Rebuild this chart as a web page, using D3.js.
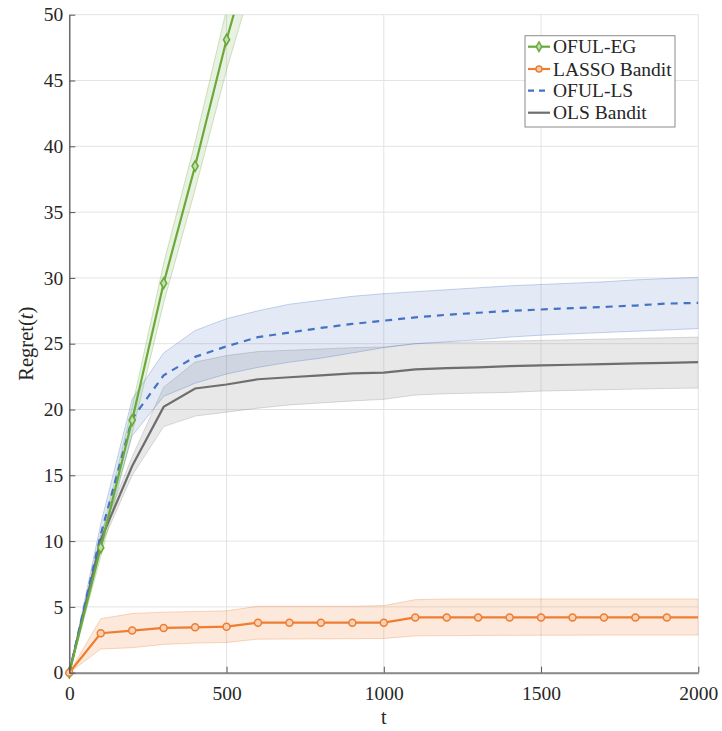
<!DOCTYPE html>
<html>
<head>
<meta charset="utf-8">
<script src="https://cdn.jsdelivr.net/npm/d3@7"></script>
<style>
  body { margin: 0; background: #fff; }
  svg text { font-family: "Liberation Serif", "Times New Roman", serif; fill: #262626; }
</style>
</head>
<body>
<svg id="chart" width="722" height="731"></svg>
<script>
// time steps (every 100 rounds)
var T = [0,100,200,300,400,500,600,700,800,900,1000,1100,1200,1300,1400,1500,1600,1700,1800,1900,2000];

// OFUL-EG only until it leaves the plot
var T_EG = [0,100,200,300,400,500,600];
var egMean  = [0, 9.5, 19.2, 29.6, 38.5, 48.1, 56.5];
var egUpper = [0, 10.2, 20.2, 31.1, 40.3, 50.4, 59.1];
var egLower = [0, 8.8, 18.2, 28.1, 36.7, 45.8, 53.9];

var lassoMean  = [0, 3.0, 3.2, 3.4, 3.45, 3.5, 3.8, 3.8, 3.8, 3.8, 3.8, 4.2, 4.2, 4.2, 4.2, 4.2, 4.2, 4.2, 4.2, 4.2, 4.2];
var lassoUpper = [0, 4.1, 4.5, 4.6, 4.65, 4.7, 5.05, 5.05, 5.05, 5.05, 5.1, 5.55, 5.6, 5.6, 5.6, 5.6, 5.6, 5.6, 5.6, 5.6, 5.6];
var lassoLower = [0, 1.8, 1.9, 2.15, 2.25, 2.3, 2.55, 2.56, 2.57, 2.58, 2.6, 2.8, 2.82, 2.83, 2.84, 2.85, 2.85, 2.86, 2.86, 2.86, 2.86];

var lsMean  = [0, 10.5, 19.3, 22.6, 24.0, 24.8, 25.5, 25.85, 26.2, 26.5, 26.75, 27.0, 27.2, 27.35, 27.5, 27.6, 27.7, 27.8, 27.9, 28.05, 28.1];
var lsUpper = [0, 11.3, 20.8, 24.3, 26.0, 26.9, 27.5, 28.0, 28.3, 28.6, 28.8, 28.95, 29.1, 29.25, 29.4, 29.5, 29.6, 29.7, 29.85, 29.95, 30.05];
var lsLower = [0, 9.7, 18.0, 21.0, 22.0, 22.7, 23.2, 23.6, 23.9, 24.3, 24.7, 25.0, 25.15, 25.3, 25.5, 25.65, 25.75, 25.85, 25.95, 26.05, 26.15];

var olsMean  = [0, 10.1, 15.7, 20.2, 21.6, 21.9, 22.3, 22.45, 22.6, 22.75, 22.8, 23.05, 23.15, 23.2, 23.3, 23.35, 23.4, 23.45, 23.5, 23.55, 23.6];
var olsUpper = [0, 10.6, 16.4, 21.7, 23.6, 24.1, 24.4, 24.5, 24.6, 24.7, 24.75, 25.0, 25.1, 25.15, 25.2, 25.25, 25.3, 25.35, 25.4, 25.45, 25.5];
var olsLower = [0, 9.6, 15.0, 18.7, 19.5, 19.8, 20.1, 20.35, 20.5, 20.65, 20.77, 21.1, 21.2, 21.25, 21.3, 21.4, 21.45, 21.5, 21.55, 21.6, 21.63];

var xTicks = [0, 500, 1000, 1500, 2000];
var yTicks = [0, 5, 10, 15, 20, 25, 30, 35, 40, 45, 50];
var legendNames = ["OFUL-EG", "LASSO Bandit", "OFUL-LS", "OLS Bandit"];

var GREEN = "#6aaa3a", ORANGE = "#ee7d32", BLUE = "#4472c4", GREY = "#6e6e6e";
var SERIF = "'Liberation Serif', 'Times New Roman', serif";

var margin = {left: 69.3, right: 23.7, top: 14.7, bottom: 58.3};
var W = 722, H = 731;
var svg = d3.select("#chart");

var x = d3.scaleLinear().domain([0, 2000]).range([margin.left, W - margin.right]);
var y = d3.scaleLinear().domain([0, 50]).range([H - margin.bottom, margin.top]);

svg.append("defs").append("clipPath").attr("id", "clip")
    .append("rect")
    .attr("x", margin.left).attr("y", margin.top)
    .attr("width", x(2000) - x(0)).attr("height", y(0) - y(50));

// grid
var grid = svg.append("g");
grid.selectAll(".gx").data(xTicks).enter().append("line")
    .attr("x1", d => x(d)).attr("x2", d => x(d))
    .attr("y1", y(0)).attr("y2", y(50))
    .style("stroke", "#e3e3e3").style("stroke-width", 1);
grid.selectAll(".gy").data(yTicks).enter().append("line")
    .attr("x1", x(0)).attr("x2", x(2000))
    .attr("y1", d => y(d)).attr("y2", d => y(d))
    .style("stroke", "#e3e3e3").style("stroke-width", 1);

var plot = svg.append("g").attr("clip-path", "url(#clip)");

function band(ts, lo, hi, color, op) {
    var pts = ts.map((t, i) => ({t: t, lo: lo[i], hi: hi[i]}));
    var area = d3.area().x(d => x(d.t)).y0(d => y(d.lo)).y1(d => y(d.hi));
    plot.append("path").datum(pts).attr("d", area)
        .style("fill", color).style("fill-opacity", op)
        .style("stroke", color).style("stroke-opacity", 0.3).style("stroke-width", 1);
}

function line(ts, vals, color, dash) {
    var pts = ts.map((t, i) => ({t: t, v: vals[i]}));
    var l = d3.line().x(d => x(d.t)).y(d => y(d.v));
    return plot.append("path").datum(pts).attr("d", l)
        .style("fill", "none").style("stroke", color).style("stroke-width", 2.2)
        .style("stroke-dasharray", dash || null);
}

band(T, olsLower, olsUpper, "#8c8c8c", 0.2);
band(T, lsLower, lsUpper, BLUE, 0.15);
band(T, lassoLower, lassoUpper, ORANGE, 0.17);
band(T_EG, egLower, egUpper, GREEN, 0.15);

line(T, olsMean, GREY);
line(T, lsMean, BLUE, "7,6");
line(T, lassoMean, ORANGE);
line(T_EG, egMean, GREEN);

// markers
var diamond = d3.symbol().type(d3.symbolDiamond).size(32);
svg.append("g").selectAll("path")
    .data(T_EG.map((t, i) => ({t: t, v: egMean[i]})).filter(d => d.v <= 50))
    .enter().append("path")
    .attr("d", diamond)
    .attr("transform", d => "translate(" + x(d.t) + "," + y(d.v) + ")")
    .style("fill", "#c4deb0").style("stroke", GREEN).style("stroke-width", 1.6);

svg.append("g").selectAll("circle")
    .data(T.map((t, i) => ({t: t, v: lassoMean[i]})).filter(d => d.t < 2000))
    .enter().append("circle")
    .attr("cx", d => x(d.t)).attr("cy", d => y(d.v)).attr("r", 3.5)
    .style("fill", "#f8d0b4").style("stroke", ORANGE).style("stroke-width", 1.5);

// axes
var xAxis = d3.axisBottom(x).tickValues(xTicks).tickFormat(d3.format("d"))
    .tickSizeInner(-6).tickSizeOuter(0).tickPadding(13);
var yAxis = d3.axisLeft(y).tickValues(yTicks).tickFormat(d3.format("d"))
    .tickSizeInner(-6).tickSizeOuter(0).tickPadding(6);

var gx = svg.append("g").attr("transform", "translate(0," + y(0) + ")").call(xAxis);
var gy = svg.append("g").attr("transform", "translate(" + x(0) + ",0)").call(yAxis);
[gx, gy].forEach(function(g) {
    g.attr("font-family", null).attr("font-size", null);
    g.selectAll("text").style("font-size", "19.5px").style("font-family", SERIF).style("fill", "#262626");
    g.selectAll("line").style("stroke", "#555");
});
gx.select(".domain").style("stroke", "#8a8a8a").style("stroke-width", 2);
gy.select(".domain").style("stroke", "#555").style("stroke-width", 1.3);

// axis labels
svg.append("text").attr("x", x(1000)).attr("y", 724)
    .attr("text-anchor", "middle").style("font-size", "20px").style("font-family", SERIF).text("t");

var yl = svg.append("text")
    .attr("transform", "translate(33," + ((y(0) + y(50)) / 2) + ") rotate(-90)")
    .attr("text-anchor", "middle").style("font-size", "20.5px").style("font-family", SERIF);
yl.append("tspan").text("Regret(");
yl.append("tspan").style("font-style", "italic").text("t");
yl.append("tspan").text(")");

// legend
var lg = svg.append("g");
lg.append("rect").attr("x", 525).attr("y", 35.7).attr("width", 150).attr("height", 91.3)
    .style("fill", "#fff").style("stroke", "#8a8a8a").style("stroke-width", 1);
var rowY = [46.7, 69.0, 90.7, 112.7];
var colors = [GREEN, ORANGE, BLUE, GREY];
legendNames.forEach(function(name, i) {
    lg.append("line").attr("x1", 528).attr("x2", 550).attr("y1", rowY[i]).attr("y2", rowY[i])
        .style("stroke", colors[i]).style("stroke-width", 2.2)
        .style("stroke-dasharray", i == 2 ? "6,5" : null);
    if (i == 0)
        lg.append("path").attr("d", d3.symbol().type(d3.symbolDiamond).size(26))
            .attr("transform", "translate(539," + rowY[i] + ")")
            .style("fill", "#c4deb0").style("stroke", GREEN).style("stroke-width", 1.5);
    if (i == 1)
        lg.append("circle").attr("cx", 539).attr("cy", rowY[i]).attr("r", 3)
            .style("fill", "#f8d0b4").style("stroke", ORANGE).style("stroke-width", 1.5);
    lg.append("text").attr("x", 553).attr("y", rowY[i] + 6.5)
        .style("font-size", "19.5px").style("font-family", SERIF).text(name);
});
</script>
</body>
</html>
